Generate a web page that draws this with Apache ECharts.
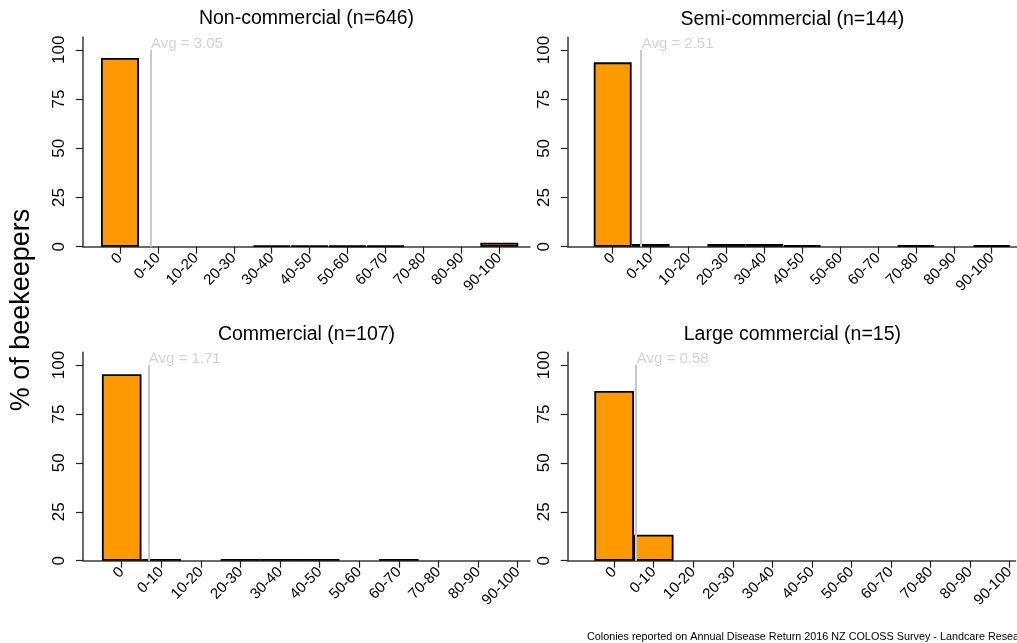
<!DOCTYPE html>
<html>
<head>
<meta charset="utf-8">
<script src="https://cdn.jsdelivr.net/npm/echarts@6/dist/echarts.min.js"></script>
<style>
html,body{margin:0;padding:0;background:#fff;}
#chart{width:1017px;height:643px;}
</style>
</head>
<body>
<div id="chart"></div>
<script>
// ---- data ----
const categories = ['0','0-10','10-20','20-30','30-40','40-50','50-60','60-70','70-80','80-90','90-100'];
const panelTitles = ['Non-commercial (n=646)','Semi-commercial (n=144)','Commercial (n=107)','Large commercial (n=15)'];
const nonCommercial   = [95.8, 0, 0, 0, 0.62, 0.62, 0.46, 0.46, 0, 0, 2.0];
const semiCommercial  = [93.75, 1.39, 0, 1.39, 1.39, 0.69, 0, 0, 0.69, 0, 0.69];
const commercial      = [95.3, 0.93, 0, 0.93, 0.93, 0.93, 0, 0.93, 0, 0, 0];
const largeCommercial = [86.7, 13.3, 0, 0, 0, 0, 0, 0, 0, 0, 0];
const averages = [3.05, 2.51, 1.71, 0.58];
const yTicks = [0, 25, 50, 75, 100];
const yAxisTitle = '% of beekeepers';
const footer = 'Colonies reported on Annual Disease Return 2016 NZ COLOSS Survey - Landcare Research';

const seriesValues = [nonCommercial, semiCommercial, commercial, largeCommercial];

// ---- layout (pixels) ----
const FONT = "'Liberation Sans', Arial, sans-serif";
const panels = [
  {left: 83,    right: 530,  top: 37,    bottom: 246.7, zeroX: 120,   step: 37.93},
  {left: 567.7, right: 1017, top: 37.3,  bottom: 246.7, zeroX: 612.7, step: 37.9},
  {left: 83,    right: 530,  top: 352.3, bottom: 560.7, zeroX: 121.7, step: 39.6},
  {left: 567.7, right: 1017, top: 352.3, bottom: 560.7, zeroX: 614.3, step: 39.67}
];
const Y_MAX = 106.5;

const grids = [], xAxes = [], yAxes = [], series = [], graphics = [];
const catIdx = categories.map((c, i) => i);

panels.forEach((p, k) => {
  const xmin = (p.left - p.zeroX) / p.step;
  const xmax = (p.right - p.zeroX) / p.step;
  grids.push({left: p.left, top: p.top, width: p.right - p.left, height: p.bottom - p.top, containLabel: false});
  xAxes.push({
    gridIndex: k, type: 'value', min: xmin, max: xmax,
    splitLine: {show: false},
    axisLine: {show: true, onZero: false, lineStyle: {color: '#3a3a3a', width: 1.5}},
    axisTick: {show: true, customValues: catIdx, length: 7, lineStyle: {color: '#222', width: 1.2}},
    axisLabel: {show: true, customValues: catIdx, rotate: 45, fontSize: 15, fontFamily: FONT, color: '#000', margin: 9,
      formatter: v => categories[Math.round(v)]}
  });
  yAxes.push({
    gridIndex: k, type: 'value', min: 0, max: Y_MAX,
    splitLine: {show: false},
    axisLine: {show: true, onZero: false, lineStyle: {color: '#3a3a3a', width: 1.5}},
    axisTick: {show: true, customValues: yTicks, length: 7, lineStyle: {color: '#222', width: 1.2}},
    axisLabel: {show: true, customValues: yTicks, rotate: 90, fontSize: 17, fontFamily: FONT, color: '#000', margin: 15}
  });
  const avgPos = 0.5 + averages[k] / 10;
  series.push({
    type: 'bar', xAxisIndex: k, yAxisIndex: k,
    barWidth: p.step,
    data: seriesValues[k].map((v, i) => v > 0 ? [i, v] : [i, null]),
    itemStyle: {color: '#FF9900', borderColor: '#000', borderWidth: 1.8},
    silent: true,
    markLine: {
      silent: true, symbol: 'none', animation: false,
      label: {show: false},
      lineStyle: {color: '#c8c8c8', width: 2, type: 'solid'},
      data: [[{coord: [avgPos, 0]}, {coord: [avgPos, 100]}]]
    },
    animation: false
  });
  series.push({
    type: 'scatter', xAxisIndex: k, yAxisIndex: k,
    symbolSize: 1, itemStyle: {color: 'rgba(0,0,0,0)'},
    data: [[avgPos, 100]],
    silent: true, animation: false,
    label: {show: true, position: [1, 2], align: 'left', verticalAlign: 'bottom',
      formatter: 'Avg = ' + averages[k].toFixed(2), color: '#c8c8c8', fontSize: 15, fontFamily: FONT}
  });
  graphics.push({
    type: 'text', x: (p.left + p.right) / 2, y: p.top - 18,
    style: {text: panelTitles[k], fill: '#000', font: '19.5px ' + FONT, textAlign: 'center', textVerticalAlign: 'middle'}
  });
});

graphics.push({
  type: 'text', x: 22, y: 310, rotation: Math.PI / 2,
  style: {text: yAxisTitle, fill: '#000', font: '27px ' + FONT, textAlign: 'center', textVerticalAlign: 'middle'}
});
graphics.push({
  type: 'text', x: 587, y: 637,
  style: {text: footer, fill: '#000', font: '10.8px ' + FONT, textAlign: 'left', textVerticalAlign: 'middle'}
});

const chart = echarts.init(document.getElementById('chart'), null, {renderer: 'canvas'});
chart.setOption({
  animation: false,
  backgroundColor: '#fff',
  grid: grids, xAxis: xAxes, yAxis: yAxes, series: series,
  graphic: graphics
});
</script>
</body>
</html>
